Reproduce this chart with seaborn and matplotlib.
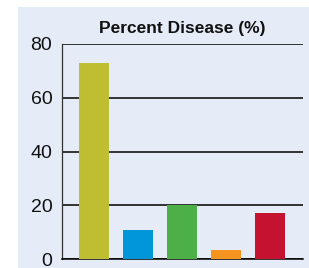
import matplotlib
matplotlib.use("Agg")
import matplotlib.pyplot as plt
import seaborn as sns
import pandas as pd
from matplotlib.patches import Rectangle

# values
groups = ["G1", "G2", "G3", "G4", "G5"]
percent_disease = [73, 10.7, 20, 3.3, 17.1]
bar_colors = ["#bfbd32", "#0096d8", "#4caf47", "#f5951f", "#c41230"]
y_ticks = [0, 20, 40, 60, 80]

df = pd.DataFrame({"group": groups, "value": percent_disease})

sns.set_style("white")
plt.rcParams["font.family"] = ["Liberation Sans", "DejaVu Sans"]

fig = plt.figure(figsize=(3.09, 2.68), dpi=100)
bg = "#e5ecf8"
# light blue panel behind the chart
fig.patches.append(Rectangle((18 / 309, 0), 1, (268 - 7) / 268,
                             transform=fig.transFigure, facecolor=bg,
                             edgecolor="none", zorder=-5))

ax = fig.add_axes([62 / 309, 9 / 268, (303 - 62) / 309, (259 - 44) / 268])
ax.set_facecolor("none")

sns.barplot(data=df, x="group", y="value", hue="group", palette=bar_colors,
            width=0.68, legend=False, ax=ax, saturation=1, zorder=3,
            linewidth=0)

ax.set_xlim(-0.727, 4.75)
ax.set_ylim(0, 80)
ax.set_yticks(y_ticks)
ax.set_xticks([])
ax.set_xlabel("")
ax.set_ylabel("")

ax.yaxis.grid(True, color="black", linewidth=1.1, zorder=1)
ax.set_axisbelow(True)
ax.tick_params(axis="y", length=0, pad=7, labelsize=14, colors="#111111")

for side in ["top", "right"]:
    ax.spines[side].set_visible(False)
ax.spines["left"].set_color("#333333")
ax.spines["left"].set_linewidth(0.9)
ax.spines["bottom"].set_color("black")
ax.spines["bottom"].set_linewidth(1.1)

ax.set_title("Percent Disease (%)", fontsize=12.5, fontweight="bold",
             pad=8, color="#111111")

fig.savefig("out.png", dpi=100)
